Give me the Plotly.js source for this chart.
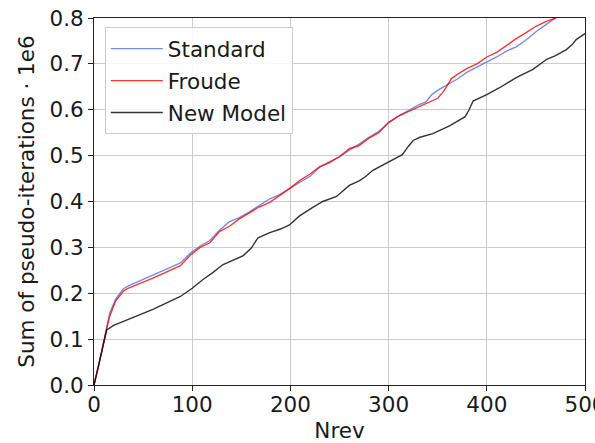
<!DOCTYPE html>
<html>
<head>
<meta charset="utf-8">
<script src="https://cdn.plot.ly/plotly-3.0.1.min.js"></script>
<style>
  html, body { margin: 0; padding: 0; background: #ffffff; }
  #chart { width: 595px; height: 443px; }
</style>
</head>
<body>
<div id="chart"></div>
<script>
// Cumulative pseudo-iterations (in millions) against revolutions
const standardX = [0, 5, 12, 16, 22, 30, 34, 60, 88, 98, 108, 118, 128, 138, 148, 158, 168, 179, 189, 199, 209, 220, 230, 240, 250, 260, 270, 280, 290, 300, 310, 320, 330, 338, 344, 352, 360, 370, 380, 390, 400, 410, 420, 430, 440, 450, 460, 470, 475];
const standardY = [0, 0.045, 0.115, 0.157, 0.187, 0.210, 0.215, 0.240, 0.266, 0.287, 0.303, 0.315, 0.338, 0.356, 0.365, 0.377, 0.390, 0.406, 0.415, 0.428, 0.440, 0.455, 0.475, 0.487, 0.497, 0.512, 0.525, 0.540, 0.553, 0.572, 0.586, 0.598, 0.610, 0.617, 0.633, 0.645, 0.655, 0.667, 0.682, 0.693, 0.705, 0.715, 0.728, 0.737, 0.752, 0.770, 0.785, 0.800, 0.808];

const froudeX = [0, 5, 12, 16, 22, 30, 34, 60, 88, 98, 108, 118, 128, 138, 148, 158, 168, 179, 189, 199, 209, 220, 230, 240, 250, 260, 270, 280, 290, 300, 310, 320, 330, 340, 350, 356, 364, 372, 380, 390, 400, 410, 420, 430, 440, 450, 460, 470, 475];
const froudeY = [0, 0.045, 0.115, 0.150, 0.183, 0.205, 0.210, 0.233, 0.260, 0.283, 0.300, 0.310, 0.335, 0.346, 0.362, 0.375, 0.388, 0.398, 0.413, 0.428, 0.445, 0.460, 0.476, 0.485, 0.498, 0.515, 0.522, 0.538, 0.550, 0.572, 0.586, 0.596, 0.606, 0.615, 0.625, 0.640, 0.668, 0.680, 0.690, 0.700, 0.715, 0.725, 0.740, 0.755, 0.768, 0.782, 0.792, 0.800, 0.806];

const newModelX = [0, 5, 13, 20, 40, 60, 88, 100, 111, 121, 131, 140, 152, 160, 167, 179, 190, 199, 209, 222, 233, 247, 260, 270, 277, 284, 290, 301, 314, 320, 325, 332, 345, 362, 378, 382, 386, 400, 413, 430, 447, 461, 470, 481, 487, 491, 500];
const newModelY = [0, 0.045, 0.120, 0.130, 0.148, 0.165, 0.193, 0.211, 0.230, 0.245, 0.262, 0.270, 0.282, 0.298, 0.321, 0.332, 0.340, 0.349, 0.368, 0.386, 0.400, 0.411, 0.435, 0.445, 0.455, 0.468, 0.475, 0.486, 0.502, 0.520, 0.533, 0.540, 0.548, 0.565, 0.585, 0.600, 0.619, 0.633, 0.648, 0.670, 0.688, 0.710, 0.718, 0.731, 0.742, 0.753, 0.766];

const seriesNames = ['Standard', 'Froude', 'New Model'];
const xTicks = [0, 100, 200, 300, 400, 500];
const yTicks = [0.0, 0.1, 0.2, 0.3, 0.4, 0.5, 0.6, 0.7, 0.8];

const FONT = 'DejaVu Sans, sans-serif';
const INK = '#1a1a1a';
const FS = 21.5;

const traces = [
  { x: standardX, y: standardY, name: seriesNames[0], legendgroup: 'a', mode: 'lines',
    line: { color: 'rgba(65,105,225,0.75)', width: 1.4 } },
  { x: froudeX, y: froudeY, name: seriesNames[1], legendgroup: 'b', mode: 'lines',
    line: { color: 'rgba(255,0,0,0.8)', width: 1.4 } },
  { x: newModelX, y: newModelY, name: seriesNames[2], legendgroup: 'c', mode: 'lines',
    line: { color: 'rgba(0,0,0,0.8)', width: 1.4 } }
];

const axisCommon = {
  showline: true, mirror: true, linecolor: '#222', linewidth: 1,
  showgrid: true, gridcolor: '#cccccc', gridwidth: 1,
  zeroline: false,
  ticks: 'outside', ticklen: 5, tickwidth: 1, tickcolor: '#222',
  tickfont: { family: FONT, size: FS, color: INK },
  ticklabeloverflow: 'allow',
  automargin: false
};

const layout = {
  width: 595, height: 443,
  margin: { l: 94, r: 10, t: 18, b: 58 },
  paper_bgcolor: '#ffffff', plot_bgcolor: '#ffffff',
  showlegend: true,
  legend: {
    x: 0.022, y: 0.975, xanchor: 'left', yanchor: 'top',
    bgcolor: 'rgba(255,255,255,0.85)', bordercolor: '#cccccc', borderwidth: 1,
    font: { family: FONT, size: FS, color: INK },
    itemwidth: 52, tracegroupgap: 1
  },
  xaxis: Object.assign({}, axisCommon, {
    range: [0, 500], tickvals: xTicks, ticktext: xTicks.map(String),
    ticklabelstandoff: -5,
    title: { text: 'Nrev', font: { family: FONT, size: FS, color: INK }, standoff: 8 }
  }),
  yaxis: Object.assign({}, axisCommon, {
    range: [0, 0.8], tickvals: yTicks, ticktext: yTicks.map(v => v.toFixed(1)),
    title: { text: 'Sum of pseudo-iterations · 1e6', font: { family: FONT, size: FS, color: INK }, standoff: 8 }
  })
};

Plotly.newPlot('chart', traces, layout, { displayModeBar: false, staticPlot: true });
</script>
</body>
</html>
